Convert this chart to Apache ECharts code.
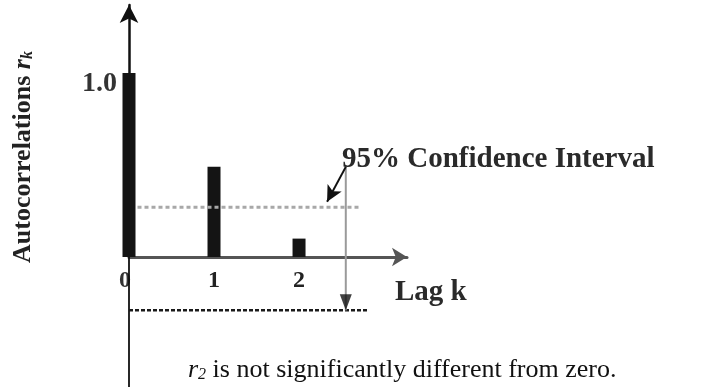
<!DOCTYPE html>
<html>
<head>
<meta charset="utf-8">
<script src="https://cdn.jsdelivr.net/npm/echarts@6/dist/echarts.min.js"></script>
<style>
  html, body { margin: 0; padding: 0; background: #fff; }
  #chart { width: 715px; height: 387px; }
</style>
</head>
<body>
<div id="chart"></div>
<script>
// Sample autocorrelation function: lags and their autocorrelations
const lags = [0, 1, 2];
const autocorrelations = [1.0, 0.49, 0.10];
const xTickValues = [0, 1, 2];
const yTickValues = [1.0];

// 95% confidence band (upper dotted bound and lower dashed bound)
const ciUpper = 0.27;
const ciLower = -0.29;
const ciSpanLags = [0.1, 2.7];        // extent of the upper bound line
const ciLowerSpanLags = [0, 2.81];    // extent of the lower bound line
const ciMarkerLag = 2.55;             // vertical bracket showing the interval
const ciMarkerTop = 0.49;
const ciPointerEnd = [2.33, 0.30];    // arrow tip from the annotation
const axisExtensionBottom = -0.71;    // the vertical axis continues below zero

const serif = '"Liberation Serif", "Times New Roman", serif';

const chart = echarts.init(document.getElementById('chart'));

chart.setOption({
  animation: false,
  backgroundColor: '#ffffff',
  grid: { left: 129, right: 308, top: 5, bottom: 130, outerBoundsMode: 'none', containLabel: false },
  xAxis: {
    type: 'value',
    min: 0,
    max: 3.27,
    axisLine: {
      show: true,
      lineStyle: { color: '#555555', width: 3 },
      symbol: ['none', 'arrow'],
      symbolSize: [14, 15]
    },
    axisTick: { show: false },
    splitLine: { show: false },
    axisLabel: {
      customValues: xTickValues,
      margin: 12,
      fontFamily: serif,
      fontWeight: 'bold',
      fontSize: 24,
      color: '#2a2a2a',
      formatter: v => (v === 0 ? '{z|0}' : '{n|' + v + '}'),
      rich: {
        z: { fontFamily: serif, fontWeight: 'bold', fontSize: 24, color: '#333333', padding: [0, 8, 0, 0] },
        n: { fontFamily: serif, fontWeight: 'bold', fontSize: 24, color: '#222222' }
      }
    }
  },
  yAxis: {
    type: 'value',
    min: 0,
    max: 1.37,
    axisLine: {
      show: true,
      lineStyle: { color: '#111111', width: 2.5 },
      symbol: ['none', 'arrow'],
      symbolSize: [14, 18]
    },
    axisTick: { show: false },
    splitLine: { show: false },
    axisLabel: {
      customValues: yTickValues,
      margin: 12,
      fontFamily: serif,
      fontWeight: 'bold',
      fontSize: 28,
      color: '#333333',
      formatter: v => '{t|' + v.toFixed(1) + '}',
      rich: {
        t: { fontFamily: serif, fontWeight: 'bold', fontSize: 28, color: '#333333', padding: [22, 0, 0, 0] }
      }
    }
  },
  series: [
    {
      name: 'ACF',
      type: 'bar',
      clip: false,
      barWidth: 13,
      itemStyle: { color: '#141414' },
      data: lags.map((k, i) => [k, autocorrelations[i]]),
      z: 3
    },
    {
      name: 'Axis extension',
      type: 'line',
      symbol: 'none',
      silent: true,
      clip: false,
      lineStyle: { color: '#111111', width: 1.8 },
      data: [[0, 0], [0, axisExtensionBottom]]
    },
    {
      name: 'Upper bound',
      type: 'line',
      symbol: 'none',
      silent: true,
      lineStyle: { color: '#a8a8a8', width: 3, type: [4, 3] },
      data: ciSpanLags.map(k => [k, ciUpper])
    },
    {
      name: 'Lower bound',
      type: 'line',
      symbol: 'none',
      silent: true,
      clip: false,
      lineStyle: { color: '#1a1a1a', width: 2.5, type: [4, 2] },
      data: ciLowerSpanLags.map(k => [k, ciLower])
    },
    {
      name: 'Interval bracket',
      type: 'line',
      symbol: 'none',
      silent: true,
      clip: false,
      lineStyle: { color: '#9a9a9a', width: 2 },
      data: [[ciMarkerLag, ciMarkerTop], [ciMarkerLag, ciLower]],
      markLine: {
        silent: true,
        symbol: ['none', 'arrow'],
        symbolSize: [12, 16],
        label: { show: false },
        lineStyle: { color: '#111111', width: 2, type: 'solid' },
        data: [[{ coord: [ciMarkerLag, ciMarkerTop] }, { coord: ciPointerEnd }]]
      }
    },
    {
      name: 'Bracket head',
      type: 'scatter',
      silent: true,
      clip: false,
      symbol: 'triangle',
      symbolRotate: 180,
      symbolSize: [12, 16],
      symbolOffset: [0, -8],
      itemStyle: { color: '#111111' },
      data: [[ciMarkerLag, ciLower]],
      z: 4
    }
  ],
  graphic: [
    {
      type: 'text',
      x: 23,
      y: 157,
      rotation: Math.PI / 2,
      style: {
        text: 'Autocorrelations {r|r}{k|k}',
        font: 'bold 26px "Liberation Serif", serif',
        fill: '#222222',
        textAlign: 'center',
        textVerticalAlign: 'middle',
        rich: {
          r: { fontFamily: serif, fontStyle: 'italic', fontWeight: 'bold', fontSize: 26, fill: '#222222' },
          k: { fontFamily: serif, fontStyle: 'italic', fontWeight: 'bold', fontSize: 16, fill: '#222222', lineHeight: 10, verticalAlign: 'bottom' }
        }
      }
    },
    {
      type: 'text',
      x: 342,
      y: 160,
      style: {
        text: '95% Confidence Interval',
        font: 'bold 29px "Liberation Serif", serif',
        fill: '#2a2a2a',
        textAlign: 'left',
        textVerticalAlign: 'middle'
      }
    },
    {
      type: 'text',
      x: 395,
      y: 293,
      style: {
        text: 'Lag k',
        font: 'bold 29px "Liberation Serif", serif',
        fill: '#2a2a2a',
        textAlign: 'left',
        textVerticalAlign: 'middle'
      }
    },
    {
      type: 'text',
      x: 188,
      y: 370,
      style: {
        text: '{r|r}{s|2} is not significantly different from zero.',
        font: '26px "Liberation Serif", serif',
        fill: '#111111',
        textAlign: 'left',
        textVerticalAlign: 'middle',
        rich: {
          r: { fontFamily: serif, fontStyle: 'italic', fontSize: 26, fill: '#111111' },
          s: { fontFamily: serif, fontStyle: 'italic', fontSize: 16, fill: '#111111', lineHeight: 8, verticalAlign: 'bottom' }
        }
      }
    }
  ]
});
</script>
</body>
</html>
